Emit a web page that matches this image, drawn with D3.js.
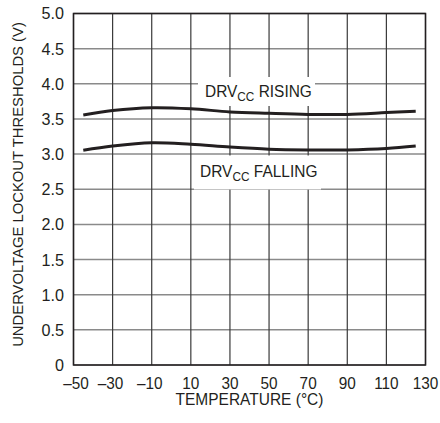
<!DOCTYPE html>
<html lang="en">
<head>
<meta charset="UTF-8" />
<script src="https://d3js.org/d3.v7.min.js"></script>
<style>
  body { margin: 0; background: #fff; }
  text { font-family: "Liberation Sans", Arial, sans-serif; fill: #231f20; }
  .curve { fill: none; stroke: #231f20; stroke-width: 3; }
</style>
</head>
<body>
<script>
// data
var temps   = [-45, -30, -10, 10, 30, 50, 70, 90, 110, 125];
var rising  = [3.556, 3.62, 3.66, 3.645, 3.60, 3.58, 3.565, 3.565, 3.59, 3.61];
var falling = [3.054, 3.115, 3.162, 3.14, 3.10, 3.07, 3.06, 3.06, 3.08, 3.115];
var xTicks = [-50, -30, -10, 10, 30, 50, 70, 90, 110, 130];
var yTicks = [0, 0.5, 1, 1.5, 2, 2.5, 3, 3.5, 4, 4.5, 5];

var width = 440, height = 423;
var svg = d3.select("body").append("svg").attr("width", width).attr("height", height);

var x = d3.scaleLinear().domain([-50, 130]).range([73.5, 425.5]);
var y = d3.scaleLinear().domain([0, 5]).range([365, 13.5]);

// squeeze a text horizontally around its anchor point (condensed look)
function squeeze(sel, sx) {
  sel.each(function () {
    var t = d3.select(this), px = +t.attr("x"), py = +t.attr("y");
    t.attr("transform", "translate(" + px + "," + py + ") scale(" + sx + ",1) translate(" + (-px) + "," + (-py) + ")");
  });
}
function fitTo(sel, w) {
  var cur = sel.node().getComputedTextLength();
  squeeze(sel, w / cur);
}

// grid
svg.append("g").selectAll("line").data(yTicks).enter().append("line")
  .attr("x1", x(-50)).attr("x2", x(130))
  .attr("y1", d => y(d)).attr("y2", d => y(d))
  .attr("stroke", "#8a8a8a").attr("stroke-width", 1.5);
svg.append("g").selectAll("line").data(xTicks).enter().append("line")
  .attr("x1", d => x(d)).attr("x2", d => x(d))
  .attr("y1", y(0)).attr("y2", y(5))
  .attr("stroke", "#3a3a3a").attr("stroke-width", 1.2);

// frame
svg.append("rect").attr("x", x(-50)).attr("y", y(5))
  .attr("width", x(130) - x(-50)).attr("height", y(0) - y(5))
  .attr("fill", "none").attr("stroke", "#231f20").attr("stroke-width", 1.5);

// label backgrounds
svg.append("rect").attr("x", 198).attr("y", 77).attr("width", 117).attr("height", 29).attr("fill", "#fff");
svg.append("rect").attr("x", 194).attr("y", 155.5).attr("width", 127).attr("height", 34).attr("fill", "#fff");

// curves
var line = d3.line().x((d, i) => x(temps[i])).y(d => y(d)).curve(d3.curveCatmullRom);
svg.append("path").datum(rising).attr("class", "curve").attr("d", line);
svg.append("path").datum(falling).attr("class", "curve").attr("d", line);

// ticks
svg.append("g").selectAll("text").data(yTicks).enter().append("text")
  .attr("x", 64).attr("y", d => y(d) + 6)
  .attr("text-anchor", "end").attr("font-size", 17)
  .text(d => d === 0 ? "0" : d3.format(".1f")(d))
  .call(squeeze, 0.95);
svg.append("g").selectAll("text").data(xTicks).enter().append("text")
  .attr("x", d => x(d) + (d === -50 ? 2.5 : d < 0 ? -2 : 0)).attr("y", 389)
  .attr("text-anchor", "middle").attr("font-size", 16.5)
  .text(d => d < 0 ? "\u2013" + Math.abs(d) : d)
  .call(squeeze, 0.93);

// axis titles
svg.append("text").attr("x", 249.5).attr("y", 405.5)
  .attr("text-anchor", "middle").attr("font-size", 16)
  .text("TEMPERATURE (\u00b0C)")
  .call(fitTo, 148);
svg.append("g").attr("transform", "translate(23,184.5) rotate(-90)")
  .append("text").attr("x", 0).attr("y", 0)
  .attr("text-anchor", "middle").attr("font-size", 15.5)
  .text("UNDERVOLTAGE LOCKOUT THRESHOLDS (V)")
  .call(fitTo, 325);

// curve labels
function label(xp, yp, rest, w) {
  var t = svg.append("text").attr("x", xp).attr("y", yp).attr("font-size", 17);
  t.append("tspan").text("DRV");
  t.append("tspan").attr("font-size", 13).attr("dy", 4).text("CC");
  t.append("tspan").attr("dy", -4).text(" " + rest);
  var bw = t.node().getBBox().width;
  squeeze(t, w / bw);
}
label(205, 97.5, "RISING", 107);
label(200, 177.5, "FALLING", 117.5);
</script>
</body>
</html>
